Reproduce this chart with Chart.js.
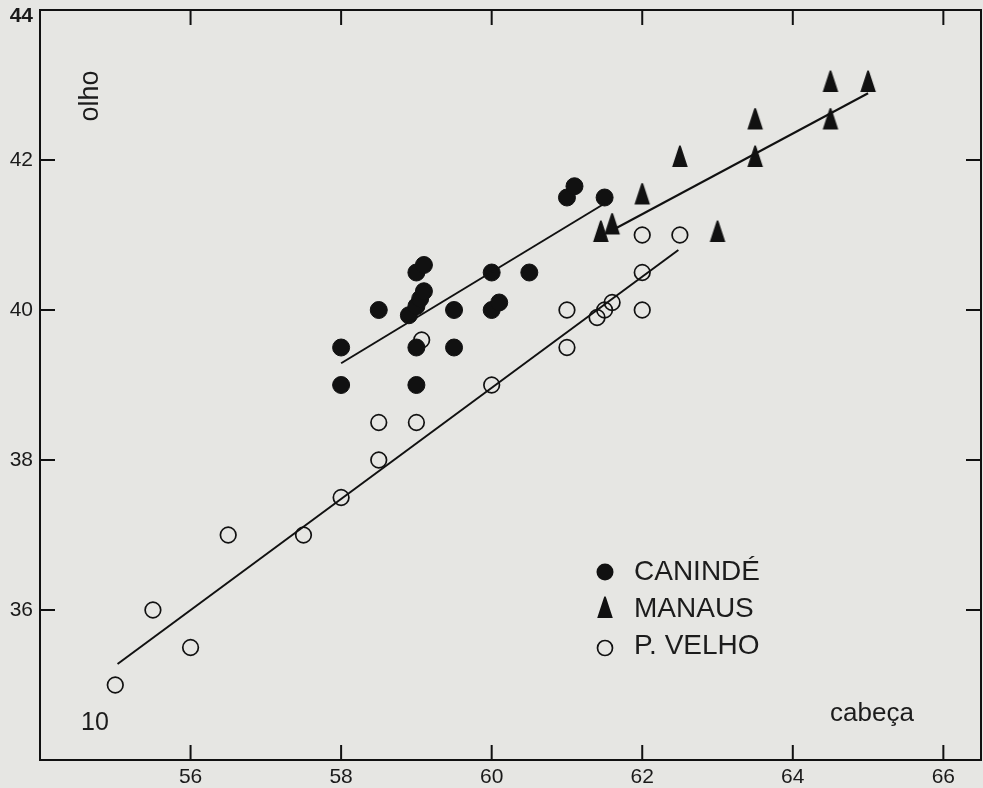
<!DOCTYPE html>
<html>
<head>
<meta charset="utf-8">
<script src="https://cdn.jsdelivr.net/npm/chart.js@4.4.1/dist/chart.umd.min.js"></script>
<style>
  html, body { margin: 0; padding: 0; background: #e6e6e3; overflow: hidden; }
  #wrap { width: 983px; height: 788px; position: relative; }
</style>
</head>
<body>
<div id="wrap"><canvas id="c"></canvas></div>
<script>
// ---- data ----
const seriesNames = ['CANINDÉ', 'MANAUS', 'P. VELHO'];

const canindeX = [58, 58, 58.5, 59, 59.1, 58.9, 59, 59.05, 59.1, 59, 59, 59.5, 59.5, 60, 60, 60.1, 60.5, 61, 61.1, 61.5];
const canindeY = [39.5, 39, 40, 40.5, 40.6, 39.93, 40.05, 40.15, 40.25, 39.5, 39, 40, 39.5, 40.5, 40, 40.1, 40.5, 41.5, 41.65, 41.5];

const manausX = [61.45, 61.6, 62, 62.5, 63, 63.5, 63.5, 64.5, 64.5, 65];
const manausY = [41, 41.1, 41.5, 42, 41, 42, 42.5, 42.5, 43, 43];

const pvelhoX = [55, 55.5, 56, 56.5, 57.5, 58, 58.5, 58.5, 59, 59.07, 60, 61, 61, 61.4, 61.5, 61.6, 62, 62, 62, 62.5];
const pvelhoY = [35, 36, 35.5, 37, 37, 37.5, 38, 38.5, 38.5, 39.6, 39, 40, 39.5, 39.9, 40, 40.1, 41, 40.5, 40, 41];

// regression line end points
const canindeLineX = [58, 61.5];
const canindeLineY = [39.29, 41.42];
const manausLineX = [61.65, 65];
const manausLineY = [41.09, 42.89];
const pvelhoLineX = [55.03, 62.48];
const pvelhoLineY = [35.28, 40.8];

// axes
const xTicks = [56, 58, 60, 62, 64, 66];
const yTicks = [36, 38, 40, 42, 44];
const xMin = 54, xMax = 66.5;
const yMin = 34, yMax = 44;
const xTitle = 'cabeça';
const yTitle = 'olho';
const cornerNote = '10';

// ---- helpers ----
const pts = (xs, ys) => xs.map((x, i) => ({ x: x, y: ys[i] }));
const INK = '#111111';

function makeTriangle() {
  const c = document.createElement('canvas');
  c.width = 18; c.height = 30;
  const g = c.getContext('2d');
  g.fillStyle = INK;
  g.beginPath();
  g.moveTo(9, 0.3);
  g.quadraticCurveTo(9.8, 0.3, 10.4, 2.4);
  g.lineTo(16.8, 22);
  g.lineTo(1.2, 22);
  g.lineTo(7.6, 2.4);
  g.quadraticCurveTo(8.2, 0.3, 9, 0.3);
  g.closePath();
  g.fill();
  return c;
}
const tri = makeTriangle();

const FONT = '"Liberation Sans", Arial, Helvetica, sans-serif';

const decor = {
  id: 'decor',
  beforeDraw(chart) {
    const ctx = chart.ctx;
    ctx.save();
    ctx.fillStyle = '#e6e6e3';
    ctx.fillRect(0, 0, chart.width, chart.height);
    ctx.restore();
  },
  afterDraw(chart) {
    const ctx = chart.ctx;
    const a = chart.chartArea;
    const xs = chart.scales.x, ys = chart.scales.y;
    ctx.save();
    ctx.strokeStyle = INK;
    ctx.lineWidth = 2;
    ctx.strokeRect(a.left, a.top, a.right - a.left, a.bottom - a.top);
    const TL = 15;
    ctx.beginPath();
    xs.ticks.forEach(t => {
      const p = xs.getPixelForValue(t.value);
      ctx.moveTo(p, a.bottom); ctx.lineTo(p, a.bottom - TL);
      ctx.moveTo(p, a.top); ctx.lineTo(p, a.top + TL);
    });
    ys.ticks.forEach(t => {
      const p = ys.getPixelForValue(t.value);
      ctx.moveTo(a.left, p); ctx.lineTo(a.left + TL, p);
      ctx.moveTo(a.right, p); ctx.lineTo(a.right - TL, p);
    });
    ctx.stroke();

    // axis titles and note
    ctx.fillStyle = '#1c1c1c';
    ctx.font = '27px ' + FONT;
    ctx.textAlign = 'center';
    ctx.textBaseline = 'middle';
    ctx.save();
    ctx.translate(a.left + 51, a.top + 86);
    ctx.rotate(-Math.PI / 2);
    ctx.fillText(yTitle, 0, 0);
    ctx.restore();

    ctx.textAlign = 'left';
    ctx.textBaseline = 'alphabetic';
    ctx.font = '26px ' + FONT;
    ctx.fillText(xTitle, a.left + 790, a.top + 711);
    ctx.font = '25px ' + FONT;
    ctx.fillText(cornerNote, a.left + 41, a.top + 720);

    // legend
    const lx = a.left + 565, ly0 = a.top + 561, dy = 37;
    ctx.font = '28px ' + FONT;
    ctx.textBaseline = 'middle';
    seriesNames.forEach((name, i) => {
      const cy = ly0 + i * dy;
      if (i === 0) {
        ctx.fillStyle = INK;
        ctx.beginPath(); ctx.arc(lx, cy + 1, 8.5, 0, Math.PI * 2); ctx.fill();
      } else if (i === 1) {
        ctx.drawImage(tri, lx - tri.width / 2, cy + 3 - tri.height / 2);
      } else {
        ctx.strokeStyle = INK; ctx.lineWidth = 1.7;
        ctx.beginPath(); ctx.arc(lx, cy + 3, 7.5, 0, Math.PI * 2); ctx.stroke();
      }
      ctx.fillStyle = '#1c1c1c';
      ctx.fillText(name, lx + 29, cy + 1);
    });
    ctx.restore();
  }
};

new Chart(document.getElementById('c'), {
  type: 'scatter',
  data: {
    datasets: [
      { label: seriesNames[0] + ' reta', type: 'line', data: pts(canindeLineX, canindeLineY),
        borderColor: INK, borderWidth: 2, pointRadius: 0, showLine: true, fill: false },
      { label: seriesNames[1] + ' reta', type: 'line', data: pts(manausLineX, manausLineY),
        borderColor: INK, borderWidth: 2, pointRadius: 0, showLine: true, fill: false },
      { label: seriesNames[2] + ' reta', type: 'line', data: pts(pvelhoLineX, pvelhoLineY),
        borderColor: INK, borderWidth: 2, pointRadius: 0, showLine: true, fill: false },
      { label: seriesNames[0], data: pts(canindeX, canindeY),
        pointStyle: 'circle', pointRadius: 8.5, pointBackgroundColor: INK, pointBorderColor: INK, pointBorderWidth: 1 },
      { label: seriesNames[1], data: pts(manausX, manausY),
        pointStyle: tri, pointRadius: 9 },
      { label: seriesNames[2], data: pts(pvelhoX, pvelhoY),
        pointStyle: 'circle', pointRadius: 7.8, pointBackgroundColor: 'rgba(0,0,0,0)', pointBorderColor: INK, pointBorderWidth: 1.7 }
    ]
  },
  options: {
    responsive: true,
    maintainAspectRatio: false,
    animation: false,
    devicePixelRatio: 1,
    layout: { autoPadding: false, padding: { top: 10, right: 2, left: 0, bottom: 0 } },
    plugins: { legend: { display: false }, tooltip: { enabled: false } },
    scales: {
      x: {
        type: 'linear', min: xMin, max: xMax,
        afterBuildTicks: s => { s.ticks = xTicks.map(v => ({ value: v })); },
        afterFit: s => { s.height = 28; s.paddingLeft = 0; s.paddingRight = 0; },
        grid: { display: false, drawTicks: false },
        border: { display: false },
        ticks: { padding: 5, color: '#1a1a1a', font: { family: FONT, size: 21 }, maxRotation: 0 }
      },
      y: {
        type: 'linear', min: yMin, max: yMax,
        afterBuildTicks: s => { s.ticks = yTicks.map(v => ({ value: v })); },
        afterFit: s => { s.width = 40; s.paddingTop = 0; s.paddingBottom = 0; },
        grid: { display: false, drawTicks: false },
        border: { display: false },
        ticks: {
          padding: 7, color: '#1a1a1a',
          callback: v => (v === yMax ? ['', String(v)] : String(v)),
          font: ctx => (ctx.tick && ctx.tick.value === yMax)
            ? { family: FONT, size: 21, weight: 'bold', lineHeight: 0.62 }
            : { family: FONT, size: 21, weight: 'normal' }
        }
      }
    }
  },
  plugins: [decor]
});
</script>
</body>
</html>
